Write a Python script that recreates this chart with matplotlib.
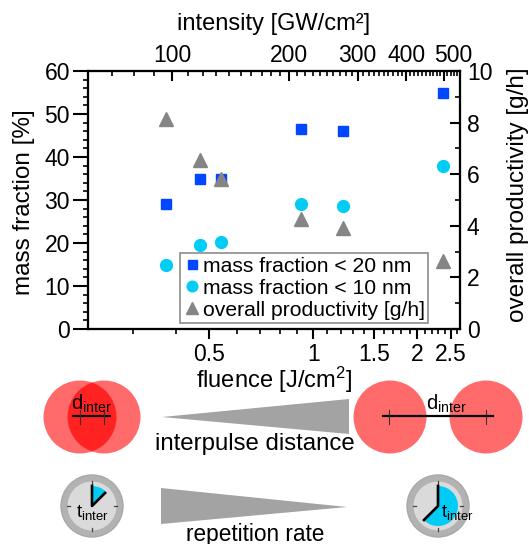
#!/usr/bin/env python3
"""Mass fraction and productivity vs fluence, with interpulse schematic below."""

import matplotlib
matplotlib.use('Agg')
import matplotlib.pyplot as plt
import numpy as np
from matplotlib.patches import Circle, Polygon, Wedge
from matplotlib.ticker import FixedLocator, FixedFormatter, NullFormatter
from matplotlib.transforms import ScaledTranslation

plt.rcParams['font.family'] = ['Liberation Sans', 'DejaVu Sans']
plt.rcParams['mathtext.fontset'] = 'custom'
plt.rcParams['mathtext.rm'] = 'Liberation Sans'
plt.rcParams['mathtext.it'] = 'Liberation Sans'
plt.rcParams['mathtext.default'] = 'regular'

# Data
fluence = [0.375, 0.471, 0.542, 0.923, 1.22, 2.38]
mass_20nm = [29, 35, 35, 46.5, 46, 55]
mass_10nm = [15, 19.5, 20.3, 29, 28.7, 37.8]
productivity = [8.15, 6.55, 5.8, 4.25, 3.9, 2.65]

fluence_ticks = [0.5, 1, 1.5, 2, 2.5]
fluence_labels = ['0.5', '1', '1.5', '2', '2.5']
fluence_minor = [0.3, 0.4, 0.6, 0.7, 0.8, 0.9, 1.1, 1.2, 1.3, 1.4, 1.6, 1.7, 1.8, 1.9,
                 2.1, 2.2, 2.3, 2.4, 2.6]
intensity_ticks = [100, 200, 300, 400, 500]
intensity_labels = ['100', '200', '300', '400', '500']
intensity_minor = [v for v in range(70, 550, 10) if v not in intensity_ticks]

W, H = 529, 544
LEFT, RIGHT, TOP, BOTTOM = 88, 460, 71, 329
BLUE = '#0047ff'
CYAN = '#00ccf5'
GRAY = '#858585'
WEDGE_GRAY = '#a3a3a3'
RED = '#ff6b6b'
DARK_RED = '#ff2222'


def style_ticks(axis, major_len, minor_len, direction):
    axis.set_tick_params(which='major', length=major_len, width=1.5, direction=direction)
    axis.set_tick_params(which='minor', length=minor_len, width=1.2, direction=direction)


def draw_clock(ax, cx, cy, theta1, theta2, hand_x, hand_y):
    ax.add_patch(Circle((cx, cy), 31, fc='#b2b2b2', ec='#a8a8a8', lw=1))
    ax.add_patch(Circle((cx, cy), 24.5, fc='#dadada', ec='none'))
    ax.add_patch(Wedge((cx, cy), 20, theta1, theta2, fc=CYAN, ec='none'))
    for dx, dy in [(0, -1), (0, 1), (-1, 0), (1, 0)]:
        ax.plot([cx + 22 * dx, cx + 25 * dx], [cy + 22 * dy, cy + 25 * dy],
                color='#444444', lw=0.9)
    ax.plot([cx, cx, hand_x], [cy - 20, cy, hand_y], color='black', lw=1.9)


def main():
    fig = plt.figure(figsize=(W / 100, H / 100), dpi=100)
    ax = fig.add_axes([LEFT / W, 1 - BOTTOM / H, (RIGHT - LEFT) / W, (BOTTOM - TOP) / H])
    ax_right = ax.twinx()
    ax_top = ax.twiny()

    ax.set_xscale('log')
    ax.set_xlim(0.223, 2.66)
    ax.set_ylim(0, 60)
    ax_right.set_ylim(0, 10)
    ax_top.set_xscale('log')
    ax_top.set_xlim(60.8, 550)

    h1, = ax.plot(fluence, mass_20nm, ls='none', marker='s', ms=7.2, color=BLUE,
                  label='mass fraction < 20 nm', zorder=4)
    h2, = ax.plot(fluence, mass_10nm, ls='none', marker='o', ms=8.5, color=CYAN,
                  label='mass fraction < 10 nm', zorder=4)
    h3, = ax_right.plot(fluence, productivity, ls='none', marker='^', ms=9.5, color=GRAY,
                        label='overall productivity [g/h]', zorder=2)

    ax.xaxis.set_major_locator(FixedLocator(fluence_ticks))
    ax.xaxis.set_major_formatter(FixedFormatter(fluence_labels))
    ax.xaxis.set_minor_locator(FixedLocator(fluence_minor))
    ax.xaxis.set_minor_formatter(NullFormatter())
    ax_top.xaxis.set_major_locator(FixedLocator(intensity_ticks))
    ax_top.xaxis.set_major_formatter(FixedFormatter(intensity_labels))
    ax_top.xaxis.set_minor_locator(FixedLocator(intensity_minor))
    ax_top.xaxis.set_minor_formatter(NullFormatter())

    ax.set_yticks(np.arange(0, 61, 10))
    ax.set_yticks(np.arange(0, 61, 2), minor=True)
    ax_right.set_yticks(np.arange(0, 11, 2))
    ax_right.set_yticks(np.arange(0, 11, 1), minor=True)

    style_ticks(ax.xaxis, 7, 3.5, 'out')
    style_ticks(ax.yaxis, 11, 3.5, 'out')
    style_ticks(ax_right.yaxis, 7.5, 3.5, 'in')
    style_ticks(ax_top.xaxis, 7.5, 3.5, 'in')
    for a in (ax, ax_right, ax_top):
        a.tick_params(labelsize=16.5)
        for spine in a.spines.values():
            spine.set_linewidth(1.5)
    ax.tick_params(axis='x', pad=3)
    ax.tick_params(axis='y', pad=2)
    ax_top.tick_params(axis='x', pad=3)
    ax_right.tick_params(axis='y', pad=5)

    # The 500 label sits right of its tick in the original, clear of the 400
    fig.canvas.draw()
    label_500 = ax_top.xaxis.get_majorticklabels()[-1]
    label_500.set_transform(label_500.get_transform()
                            + ScaledTranslation(9 / 100, 0, fig.dpi_scale_trans))

    leg = ax_top.legend(handles=[h1, h2, h3], loc='lower left',
                        bbox_to_anchor=(180 / W, 1 - 323 / H), bbox_transform=fig.transFigure,
                        fontsize=15.2, borderaxespad=0, borderpad=0.15, handletextpad=0.15,
                        labelspacing=0.15, handlelength=0.8, markerscale=0.9, fancybox=False,
                        framealpha=1, edgecolor='#8c8c8c')
    leg.get_frame().set_linewidth(1.2)

    # Everything else is placed in picture pixels on an overlay
    over = fig.add_axes([0, 0, 1, 1])
    over.set_xlim(0, W)
    over.set_ylim(H, 0)
    over.axis('off')
    over.patch.set_alpha(0)

    over.text(274, 24, 'intensity [GW/cm²]', fontsize=17, ha='center', va='center')
    over.text(274, 380, 'fluence [J/cm$^2$]', fontsize=17, ha='center', va='center')
    over.text(24, 202, 'mass fraction [%]', fontsize=17.5, rotation=90, ha='center', va='center')
    over.text(518, 195, 'overall productivity [g/h]', fontsize=17.5, rotation=90,
              ha='center', va='center')

    # Overlapping pulses, left
    over.add_patch(Circle((80, 417), 36.5, fc=RED, ec='none'))
    over.add_patch(Circle((104, 417), 36.5, fc=RED, ec='none'))
    clip = Circle((80, 417), 36.5, transform=over.transData)
    lens = Circle((104, 417), 36.5, fc=DARK_RED, ec='none')
    over.add_patch(lens)
    lens.set_clip_path(clip)
    over.plot([73, 110], [416, 416], color='black', lw=1.6)
    for x in (80, 104):
        over.plot([x, x], [410, 424], color='#333333', lw=0.8)
    over.text(91, 404, 'd$_{inter}$', fontsize=14.5, ha='center', va='center')

    # Separated pulses, right
    over.add_patch(Circle((390, 417), 36.5, fc=RED, ec='none'))
    over.add_patch(Circle((486, 417), 36.5, fc=RED, ec='none'))
    over.plot([383, 493], [416, 416], color='black', lw=1.6)
    for x in (389, 486):
        over.plot([x, x], [410, 424], color='#333333', lw=0.8)
    over.text(446, 404, 'd$_{inter}$', fontsize=14.5, ha='center', va='center')

    # Grey wedges and their captions
    over.add_patch(Polygon([(162, 417), (349, 399), (349, 434)], fc=WEDGE_GRAY, ec='none'))
    over.add_patch(Polygon([(161, 488), (161, 524), (347, 507)], fc=WEDGE_GRAY, ec='none'))
    over.text(255, 444, 'interpulse distance', fontsize=17.3, ha='center', va='center')
    over.text(255, 534, 'repetition rate', fontsize=16.3, ha='center', va='center')

    # Clocks (y runs downwards here, so wedge angles are measured clockwise from +x)
    draw_clock(over, 92, 506, 270, 318, 105, 493)
    draw_clock(over, 438, 506, 270, 495, 424, 520)
    over.text(92, 513, 't$_{inter}$', fontsize=13.5, ha='center', va='center')
    over.text(457, 513, 't$_{inter}$', fontsize=13.5, ha='center', va='center')

    fig.savefig('out.png', dpi=100)


if __name__ == '__main__':
    main()
